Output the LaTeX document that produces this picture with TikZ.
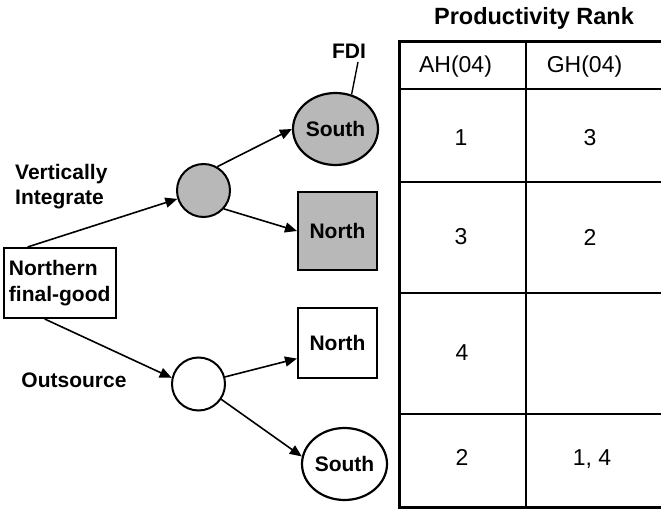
\documentclass[tikz,border=0pt]{standalone}
\usepackage{fontspec}
\setmainfont{Liberation Sans}
\usetikzlibrary{arrows.meta,shapes.geometric}
\definecolor{nodegrey}{gray}{0.72}
\begin{document}
\begin{tikzpicture}[x=1pt,y=-1pt,
  lab/.style={font=\fontsize{21}{25.5}\selectfont\bfseries, inner sep=0pt},
  cell/.style={font=\fontsize{23}{27}\selectfont, inner sep=0pt},
  rbox/.style={draw, line width=2pt, rectangle, inner sep=0pt, font=\fontsize{21}{25.5}\selectfont\bfseries},
  circ/.style={draw, line width=2pt, circle, minimum size=53pt, inner sep=0pt},
  ell/.style={draw, line width=2.2pt, ellipse, inner sep=0pt, font=\fontsize{21}{25.5}\selectfont\bfseries},
  arr/.style={line width=1.6pt, -{Triangle[length=12pt,width=10pt]}},
  tabthick/.style={line width=3pt},
  tabthin/.style={line width=1.5pt}]
\useasboundingbox (0,0) rectangle (661,510);
\clip (0,0) rectangle (661,510);
% table
\draw[tabthin] (526,42) -- (526,507);
\foreach \yy in {89,182,293,414} \draw[tabthin] (399,\yy) -- (675,\yy);
\draw[tabthick] (675,42) -- (399,42) -- (399,507) -- (675,507);
\node[lab, font=\fontsize{23.5}{28}\selectfont\bfseries] (title) at (534,18) {Productivity Rank};
\node[cell] (ah) at (455.5,67) {AH(04)};
\node[cell] (gh) at (584.5,67) {GH(04)};
\node[cell] (a1) at (461,138) {1};
\node[cell] (b1) at (590,138) {3};
\node[cell] (a2) at (461,237) {3};
\node[cell] (b2) at (590,237) {2};
\node[cell] (a3) at (462,353) {4};
\node[cell] (a4) at (462,457) {2};
\node[cell] (b4) at (592,459.5) {1, 4};
% tree
\node[rbox, minimum width=112pt, minimum height=70pt, align=left, text width=102pt] (root) at (60,283) {Northern\\final-good};
\node[circ, fill=nodegrey] (gv) at (203.5,190.5) {};
\node[circ, fill=white] (ov) at (198.5,384) {};
\node[ell, fill=nodegrey, minimum width=85pt, minimum height=72pt] (southA) at (335.5,129) {South};
\node[rbox, fill=nodegrey, minimum width=79pt, minimum height=78pt] (northA) at (337.5,231) {North};
\node[rbox, fill=white, minimum width=79pt, minimum height=70pt] (northB) at (337.5,343) {North};
\node[ell, fill=white, minimum width=85pt, minimum height=72pt] (southB) at (344.5,464) {South};
\node[lab] (fdi) at (349,51) {FDI};
\coordinate (fdil) at (358,62);
\node[lab, anchor=west, align=left] (vi) at (15,186.5) {Vertically\\Integrate};
\node[lab] (out) at (74,380) {Outsource};
\draw[line width=1.4pt] (fdil) -- (southA.65);
\draw[arr] (root.132) -- (gv);
\draw[arr] (gv.60) -- (southA.west);
\draw[arr] (gv.-42) -- (northA.west);
\draw[arr] (root.247) -- (ov.167);
\draw[arr] (ov.15) -- (northB.201);
\draw[arr] (ov.-34) -- (southB.170);
\end{tikzpicture}
\end{document}
